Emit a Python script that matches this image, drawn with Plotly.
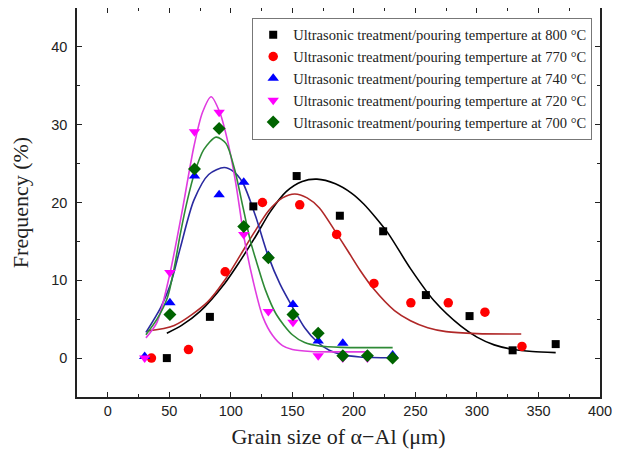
import plotly.graph_objects as go

# ---------------- data ----------------
labels = [
    "Ultrasonic treatment/pouring temperture at 800 °C",
    "Ultrasonic treatment/pouring temperture at 770 °C",
    "Ultrasonic treatment/pouring temperture at 740 °C",
    "Ultrasonic treatment/pouring temperture at 720 °C",
    "Ultrasonic treatment/pouring temperture at 700 °C",
]

# measured points
x800 = [48, 83, 118.3, 153.5, 188.6, 223.8, 258.5, 294, 329, 364]
y800 = [0, 5.3, 19.5, 23.4, 18.3, 16.3, 8.1, 5.4, 1.0, 1.8]

x770 = [35.5, 65.6, 95.4, 125.7, 156, 186, 216.3, 246.3, 276.7, 306.5, 336.6]
y770 = [0, 1.1, 11.1, 20.0, 19.7, 15.9, 9.6, 7.1, 7.1, 5.9, 1.5]

x740 = [30, 50.5, 70.5, 90.5, 110.5, 130.5, 150.5, 171, 191, 211, 231.5]
y740 = [0.2, 7.1, 23.4, 21.0, 22.6, 13.2, 6.9, 2.2, 1.9, 0.4, 0.4]

x720 = [30, 50.5, 70.5, 90.5, 110.5, 130.5, 150.5, 171, 191, 211]
y720 = [0, 11.0, 29.1, 31.6, 15.9, 6.0, 4.6, 0.3, 0, 0]

x700 = [50.5, 70.5, 90.5, 110.5, 130.5, 150.5, 171, 191, 211, 231.5]
y700 = [5.6, 24.3, 29.5, 16.9, 12.9, 5.6, 3.2, 0.3, 0.3, 0]

# fitted curves
cx800 = [48, 60, 75, 95, 108, 120, 132, 145, 158, 170, 185, 198, 208, 218, 228,
         246, 265, 287, 300, 314, 330, 345, 364]
cy800 = [3.2, 4.2, 6.0, 9.6, 12.6, 15.6, 18.8, 21.4, 22.7, 23.0, 22.4, 21.2, 19.8,
         18.0, 16.0, 11.5, 7.4, 4.1, 2.7, 1.7, 1.1, 0.85, 0.7]

cx770 = [32, 54, 81, 95, 108, 118, 131, 142, 152, 162, 172, 186, 195, 205, 216,
         233, 246, 260, 275, 300, 336]
cy770 = [3.5, 4.2, 7.2, 10.0, 13.3, 15.9, 19.0, 20.6, 21.1, 20.6, 19.3, 16.0, 13.8,
         11.3, 8.9, 6.1, 4.8, 3.9, 3.4, 3.15, 3.1]

cx740 = [31, 43, 51, 59, 70, 82, 94.6, 102, 109.5, 120, 130, 140, 151, 160, 170,
         180, 190, 205, 231.5]
cy740 = [3.3, 6.5, 9.5, 14.2, 20.3, 23.6, 24.5, 24.0, 22.6, 18.3, 13.3, 9.5, 6.3,
         3.9, 2.1, 1.0, 0.45, 0.15, 0.05]

cx720 = [31, 40, 50, 60, 70, 77, 84, 91, 98, 104, 111, 118, 126, 134, 142, 150,
         165, 185, 210]
cy720 = [2.6, 4.6, 10.5, 18.5, 27.2, 31.6, 33.6, 31.6, 27.5, 22.5, 15.3, 10.0, 5.3,
         2.9, 1.6, 1.1, 0.85, 0.8, 0.8]

cx700 = [31, 40, 48.5, 54, 59, 65, 70.5, 78, 88, 96, 103, 110, 116, 121, 128, 137,
         150, 160, 172, 190, 231.5]
cy700 = [3.0, 5.0, 7.8, 11.6, 16.0, 20.5, 23.8, 26.8, 28.4, 27.6, 24.3, 19.3, 15.0,
         12.3, 8.8, 5.6, 3.0, 2.0, 1.55, 1.38, 1.35]

x_ticks = [0, 50, 100, 150, 200, 250, 300, 350, 400]
y_ticks = [0, 10, 20, 30, 40]

# ---------------- styles ----------------
marker_colors = ["#000000", "#ff0000", "#0000ff", "#ff00ff", "#006400"]
line_colors = ["#000000", "#b02828", "#2a2aa0", "#e03ce0", "#2e8a36"]
symbols = ["square", "circle", "triangle-up", "triangle-down", "diamond"]
sizes = [8, 9.5, 10, 10, 10]

pts = [(x800, y800), (x770, y770), (x740, y740), (x720, y720), (x700, y700)]
curves = [(cx800, cy800), (cx770, cy770), (cx740, cy740), (cx720, cy720), (cx700, cy700)]

fig = go.Figure()

for (cx, cy), lc in zip(curves, line_colors):
    fig.add_trace(go.Scatter(x=cx, y=cy, mode="lines",
                             line=dict(color=lc, width=1.6, shape="spline", smoothing=0.8),
                             showlegend=False, hoverinfo="skip"))

for (px, py), mc, sym, sz, lab in zip(pts, marker_colors, symbols, sizes, labels):
    fig.add_trace(go.Scatter(x=px, y=py, mode="markers", name=lab,
                             marker=dict(color=mc, symbol=sym, size=sz, line=dict(width=0))))

axis_common = dict(
    showline=True, linecolor="#222", linewidth=1.5, mirror="allticks",
    ticks="inside", ticklen=5, tickwidth=1.3, tickcolor="#222",
    showgrid=False, zeroline=False, automargin=False,
    tickfont=dict(family="Liberation Sans, Arial, sans-serif", size=14.5, color="#222"),
    minor=dict(ticks="inside", ticklen=3, tickwidth=1.1, tickcolor="#222", showgrid=False),
)

fig.update_xaxes(range=[-25, 400], tickmode="array", tickvals=x_ticks,
                 minor_dtick=25,
                 title=dict(text="Grain size of α−Al (μm)",
                            font=dict(family="Liberation Serif, Times New Roman, serif",
                                      size=22, color="#222"), standoff=16),
                 **axis_common)
fig.update_yaxes(range=[-5, 45], tickmode="array", tickvals=y_ticks,
                 minor_dtick=5, ticklabelstandoff=5,
                 title=dict(text="Frequency (%)",
                            font=dict(family="Liberation Serif, Times New Roman, serif",
                                      size=22, color="#222"), standoff=19),
                 **axis_common)

# the page adds an 8 px body margin, so the figure is shifted by 8 px
fig.update_layout(
    width=610, height=441,
    margin=dict(l=69, r=18, t=0, b=52),
    plot_bgcolor="white", paper_bgcolor="white",
    legend=dict(x=0.335, y=0.975, xanchor="left", yanchor="top",
                bgcolor="white", bordercolor="#777", borderwidth=1,
                font=dict(family="Liberation Serif, Times New Roman, serif", size=14.5,
                          color="#222"),
                itemwidth=30, tracegroupgap=0),
)

fig.write_html("out.html")
